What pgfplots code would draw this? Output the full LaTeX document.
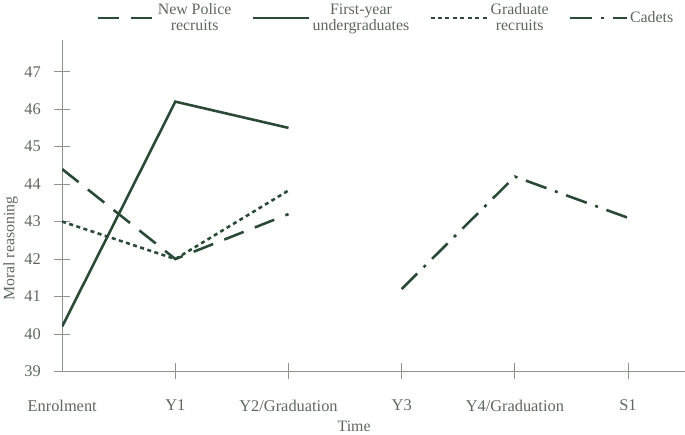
\documentclass[border=0pt]{standalone}
\usepackage{pgfplots}
\pgfplotsset{compat=1.18}
\usepackage{fontspec}
\setmainfont{Liberation Serif}
\definecolor{linegreen}{HTML}{2B4A36}
\definecolor{axisgray}{HTML}{8C968F}
\definecolor{textgray}{HTML}{5E6860}
\begin{document}
\begin{tikzpicture}
\begin{axis}[
    scale only axis,
    width=625bp, height=333bp,
    xmin=0, xmax=5.5,
    ymin=39, ymax=47.85,
    axis x line*=bottom, axis y line*=left,
    axis line style={draw=axisgray, line width=0.8pt, -},
    xtick={0,1,2,3,4,5},
    xticklabels={Enrolment,Y1,Y2/Graduation,Y3,Y4/Graduation,S1},
    x tick style={draw=none},
    extra x ticks={1,2,3,4,5},
    extra x tick labels={},
    extra x tick style={tick align=center, major tick length=16bp, x tick style={draw=axisgray, line width=0.8pt}},
    ytick={39,40,...,47},
    tick align=center,
    major tick length=16bp,
    y tick style={draw=axisgray, line width=0.8pt},
    /pgf/number format/assume math mode=true,
    tick label style={font=\fontsize{16.5}{18}\selectfont, text=textgray},
    xticklabel style={yshift=-17bp},
    yticklabel style={xshift=-10bp},
    xlabel={Time},
    ylabel={Moral reasoning},
    label style={font=\fontsize{16}{18}\selectfont, text=textgray},
    xlabel style={at={(axis description cs:0.469,-0.165)}, anchor=center},
    ylabel style={at={(axis description cs:-0.083,0.37)}, anchor=center},
    legend columns=4,
    legend style={at={(0.52,1.01)}, anchor=south, draw=none, fill=none,
        font=\fontsize{16}{16}\selectfont, text=textgray,
        nodes={align=center},
        /tikz/every even column/.append style={column sep=18bp}},
    legend image code/.code={\draw[#1] (0bp,0bp) -- (57bp,0bp);},
    every axis plot/.append style={linegreen, line width=2.6pt},
]
\addplot[dash pattern=on 21bp off 12bp] coordinates {(0,44.4) (1,42.0) (2,43.2)};
\addlegendentry{New Police\\recruits}
\addplot[solid] coordinates {(0,40.2) (1,46.2) (2,45.5)};
\addlegendentry{First-year\\undergraduates}
\addplot[dash pattern=on 4bp off 3.5bp] coordinates {(0,43.0) (1,42.0) (2,43.83)};
\addlegendentry{Graduate\\recruits}
\addplot[dash pattern=on 22bp off 9bp on 3bp off 9bp] coordinates {(3,41.2) (4,44.2) (5,43.1)};
\addlegendentry{Cadets}
\end{axis}
\end{tikzpicture}
\end{document}
